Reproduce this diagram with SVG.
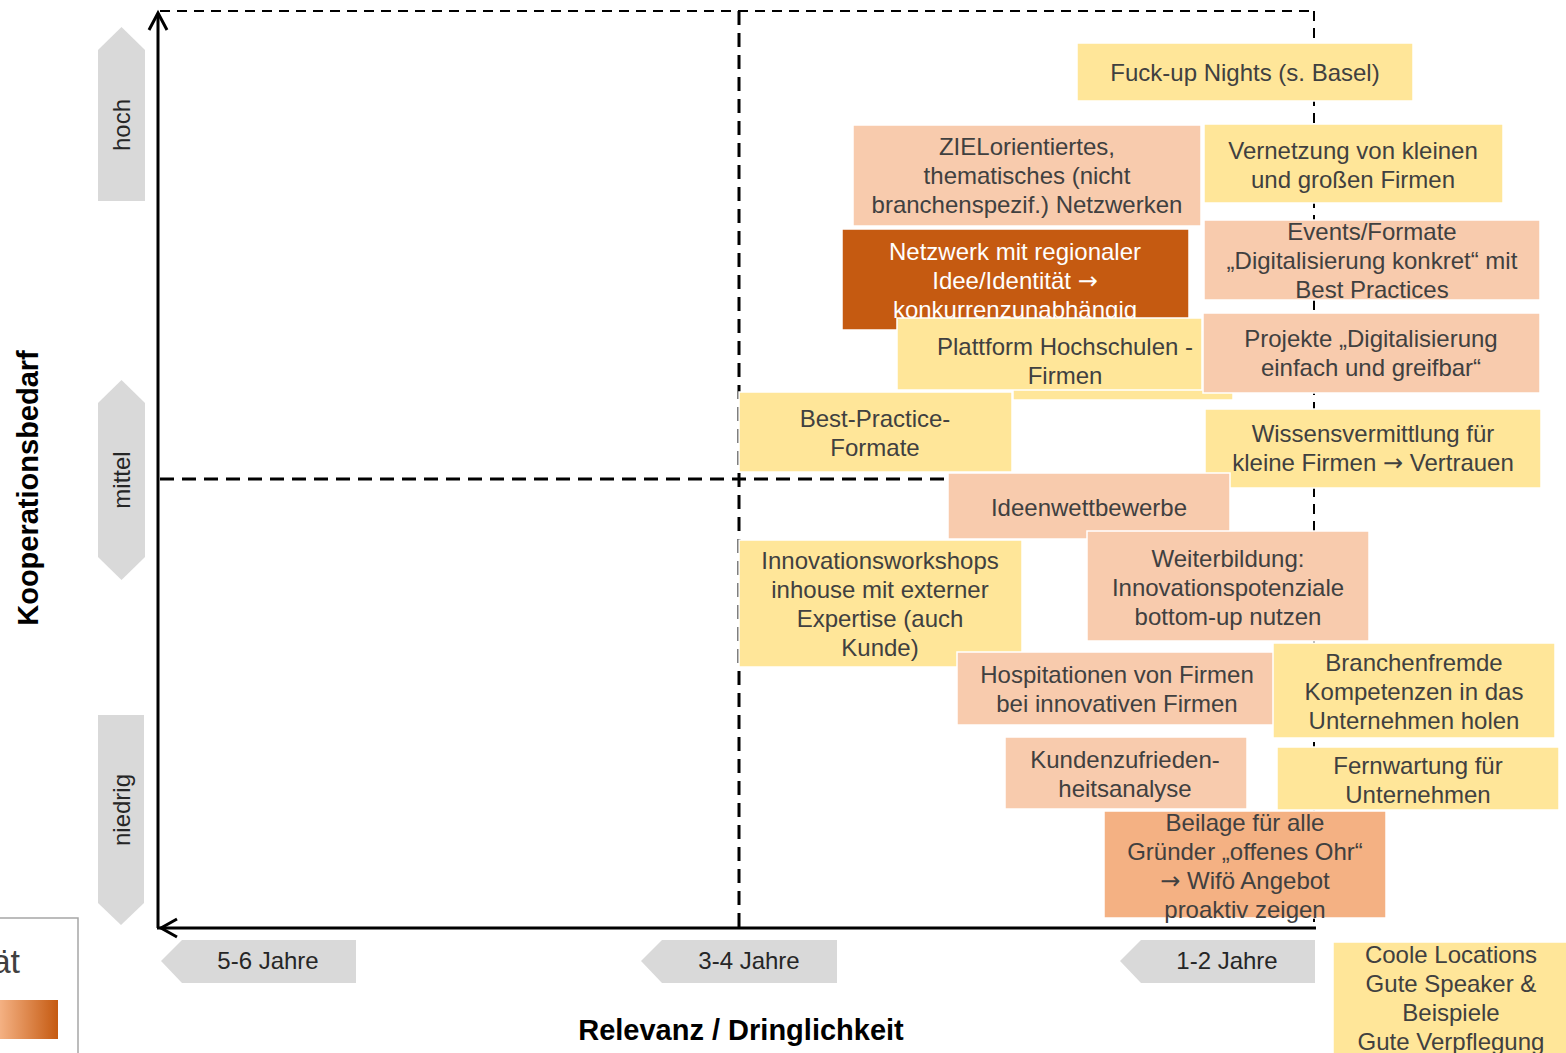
<svg xmlns="http://www.w3.org/2000/svg" width="1566" height="1053" viewBox="0 0 1566 1053">
<defs>
<style>
.t{font-family:"Liberation Sans",Arial,sans-serif;font-size:24px;fill:#404040;text-anchor:middle}
.w{fill:#ffffff}
.ar{font-family:"DejaVu Sans",sans-serif;font-size:24px}
.g{font-family:"Liberation Sans",Arial,sans-serif;font-size:24px;fill:#262626;text-anchor:middle}
.b{font-family:"Liberation Sans",Arial,sans-serif;font-size:29px;font-weight:bold;fill:#000;text-anchor:middle}
.y{fill:#FFE699;stroke:#fff;stroke-width:1.5}
.p{fill:#F8CBAD;stroke:#fff;stroke-width:1.5}
.o{fill:#F4B183;stroke:#fff;stroke-width:1.5}
.d{fill:#C55A11;stroke:#fff;stroke-width:1.5}
.gr{fill:#D9D9D9}
.ax{stroke:#000;stroke-width:3;fill:none}
.dl{stroke:#000;stroke-width:2;fill:none;stroke-dasharray:10 7}
.dm{stroke:#000;stroke-width:3;fill:none;stroke-dasharray:14 8}
</style>
<linearGradient id="lg" x1="0" y1="0" x2="1" y2="0">
<stop offset="0" stop-color="#F4B183"/>
<stop offset="1" stop-color="#C55A11"/>
</linearGradient>
</defs>
<rect width="1566" height="1053" fill="#fff"/>

<g id="legend">
<rect x="-2" y="918" width="80" height="140" fill="#fff" stroke="#A6A6A6" stroke-width="1.5"/>
<text x="20" y="973" style="font-family:'Liberation Sans',Arial,sans-serif;font-size:34px;fill:#404040;text-anchor:end">ät</text>
<rect x="0" y="1000" width="58" height="39" fill="url(#lg)"/>
</g>

<g id="axis-labels">
<g id="label-hoch"><polygon class="gr" points="98,50 121.5,27 145,50 145,201 98,201"/><text class="g" transform="translate(130,125) rotate(-90)">hoch</text></g>
<g id="label-mittel"><polygon class="gr" points="98,403 121.5,380 145,403 145,557 121.5,580 98,557"/><text class="g" transform="translate(130,480) rotate(-90)">mittel</text></g>
<g id="label-niedrig"><polygon class="gr" points="98,715 144,715 144,903 121,925 98,903"/><text class="g" transform="translate(130,810) rotate(-90)">niedrig</text></g>
<g id="label-56"><polygon class="gr" points="161,961 182,940 356,940 356,983 182,983"/><text class="g" x="268" y="969">5-6 Jahre</text></g>
<g id="label-34"><polygon class="gr" points="641,961 662,940 837,940 837,983 662,983"/><text class="g" x="749" y="969">3-4 Jahre</text></g>
<g id="label-12"><polygon class="gr" points="1120,961 1141,940 1315,940 1315,983 1141,983"/><text class="g" x="1227" y="969">1-2 Jahre</text></g>
<text class="b" transform="translate(38,488) rotate(-90)">Kooperationsbedarf</text>
<text class="b" x="741" y="1040">Relevanz / Dringlichkeit</text>
</g>

<g id="connectors">
<line class="dl" x1="160" y1="11" x2="1314" y2="11"/>
<line class="dl" x1="1314" y1="11" x2="1314" y2="928"/>
<line class="dm" x1="739" y1="11" x2="739" y2="928"/>
<line class="dm" x1="160" y1="479" x2="1314" y2="479"/>
<line class="ax" x1="158" y1="14" x2="158" y2="928"/>
<polyline class="ax" points="149,30 158,13 167,30"/>
<line class="ax" x1="157" y1="928" x2="1316" y2="928"/>
<polyline class="ax" points="177,919 161,928 177,937"/>
</g>

<g id="n-fuckup"><rect class="y" x="1077" y="43" width="336" height="58"/><text class="t" x="1245" y="81">Fuck-up Nights (s. Basel)</text></g>
<g id="n-ziel"><rect class="p" x="853" y="125" width="348" height="101"/><text class="t" x="1027" y="155">ZIELorientiertes,</text><text class="t" x="1027" y="184">thematisches (nicht</text><text class="t" x="1027" y="213">branchenspezif.) Netzwerken</text></g>
<g id="n-vernetzung"><rect class="y" x="1204" y="124" width="299" height="79"/><text class="t" x="1353" y="159">Vernetzung von kleinen</text><text class="t" x="1353" y="188">und großen Firmen</text></g>
<g id="n-netzwerk"><rect class="d" x="842" y="229" width="347" height="101"/><text class="t w" x="1015" y="260">Netzwerk mit regionaler</text><text class="t w" x="1015" y="289">Idee/Identität <tspan class="ar">→</tspan></text><text class="t w" x="1015" y="318">konkurrenzunabhängig</text></g>
<g id="n-events"><rect class="p" x="1204" y="220" width="336" height="80"/><text class="t" x="1372" y="240">Events/Formate</text><text class="t" x="1372" y="269">„Digitalisierung konkret“ mit</text><text class="t" x="1372" y="298">Best Practices</text></g>
<g id="n-plattform"><rect class="y" x="1013" y="330" width="220" height="70"/><rect class="y" x="897" y="318" width="305" height="72"/><text class="t" x="1065" y="355">Plattform Hochschulen -</text><text class="t" x="1065" y="384">Firmen</text></g>
<g id="n-projekte"><rect class="p" x="1203" y="313" width="337" height="80"/><text class="t" x="1371" y="347">Projekte „Digitalisierung</text><text class="t" x="1371" y="376">einfach und greifbar“</text></g>
<g id="n-bestpractice"><rect class="y" x="739" y="392" width="273" height="80"/><text class="t" x="875" y="427">Best-Practice-</text><text class="t" x="875" y="456">Formate</text></g>
<g id="n-wissen"><rect class="y" x="1205" y="409" width="336" height="79"/><text class="t" x="1373" y="442">Wissensvermittlung für</text><text class="t" x="1373" y="471">kleine Firmen <tspan class="ar">→</tspan> Vertrauen</text></g>
<g id="n-ideen"><rect class="p" x="948" y="473" width="282" height="66"/><text class="t" x="1089" y="516">Ideenwettbewerbe</text></g>
<g id="n-weiterbildung"><rect class="p" x="1087" y="531" width="282" height="110"/><text class="t" x="1228" y="567">Weiterbildung:</text><text class="t" x="1228" y="596">Innovationspotenziale</text><text class="t" x="1228" y="625">bottom-up nutzen</text></g>
<g id="n-innovation"><rect class="y" x="739" y="540" width="283" height="127"/><text class="t" x="880" y="569">Innovationsworkshops</text><text class="t" x="880" y="598">inhouse mit externer</text><text class="t" x="880" y="627">Expertise (auch</text><text class="t" x="880" y="656">Kunde)</text></g>
<g id="n-hospitation"><rect class="p" x="957" y="652" width="320" height="73"/><text class="t" x="1117" y="683">Hospitationen von Firmen</text><text class="t" x="1117" y="712">bei innovativen Firmen</text></g>
<g id="n-branchenfremde"><rect class="y" x="1273" y="643" width="282" height="95"/><text class="t" x="1414" y="671">Branchenfremde</text><text class="t" x="1414" y="700">Kompetenzen in das</text><text class="t" x="1414" y="729">Unternehmen holen</text></g>
<g id="n-kunden"><rect class="p" x="1005" y="737" width="242" height="72"/><text class="t" x="1125" y="768">Kundenzufrieden-</text><text class="t" x="1125" y="797">heitsanalyse</text></g>
<g id="n-fernwartung"><rect class="y" x="1277" y="747" width="282" height="63"/><text class="t" x="1418" y="774">Fernwartung für</text><text class="t" x="1418" y="803">Unternehmen</text></g>
<g id="n-beilage"><rect class="o" x="1104" y="811" width="282" height="107"/><text class="t" x="1245" y="831">Beilage für alle</text><text class="t" x="1245" y="860">Gründer „offenes Ohr“</text><text class="t" x="1245" y="889"><tspan class="ar">→</tspan> Wifö Angebot</text><text class="t" x="1245" y="918">proaktiv zeigen</text></g>
<g id="n-coole"><rect class="y" x="1333" y="942" width="235" height="115"/><text class="t" x="1451" y="963">Coole Locations</text><text class="t" x="1451" y="992">Gute Speaker &amp;</text><text class="t" x="1451" y="1021">Beispiele</text><text class="t" x="1451" y="1050">Gute Verpflegung</text></g>
</svg>
